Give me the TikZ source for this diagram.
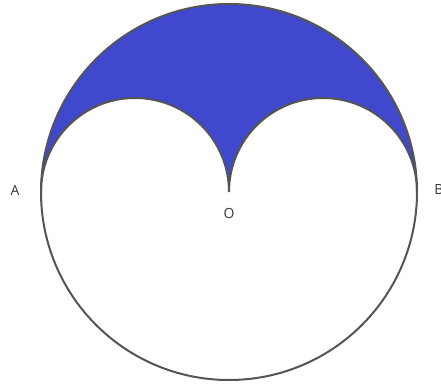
\documentclass[tikz,border=0pt]{standalone}
\usepackage{fontspec}
\setsansfont{Open Sans}
\usetikzlibrary{positioning}
\definecolor{myblue}{RGB}{64,72,206}
\definecolor{mygray}{RGB}{85,85,85}
\definecolor{mytext}{RGB}{55,55,55}
\tikzset{
  rim/.style={line width=2pt, draw=mygray},
  lbl/.style={font=\sffamily\fontsize{14}{16}\selectfont, text=mytext}
}
\begin{document}
\begin{tikzpicture}[x=1pt, y=1pt]
  \useasboundingbox (0,0) rectangle (441,385);
  \coordinate (O) at (229,193);
  \coordinate (A) at (41,193);
  \coordinate (B) at (417,193);

  % shaded part between the big arc and the two small ones
  \fill[myblue] (A) arc[start angle=180, end angle=0, radius=188]
    arc[start angle=0, end angle=180, radius=94]
    arc[start angle=0, end angle=180, radius=94];

  % outlines
  \draw[rim] (O) ++(188,0) arc[start angle=0, end angle=360, radius=188];
  \draw[rim] (A) arc[start angle=180, end angle=0, radius=94];
  \draw[rim] (O) arc[start angle=180, end angle=0, radius=94];

  % labels
  \node[lbl] (labA) at (15,195) {A};
  \node[lbl] (labB) at (439,195) {B};
  \node[lbl] (labO) at (229,172) {O};
\end{tikzpicture}
\end{document}
